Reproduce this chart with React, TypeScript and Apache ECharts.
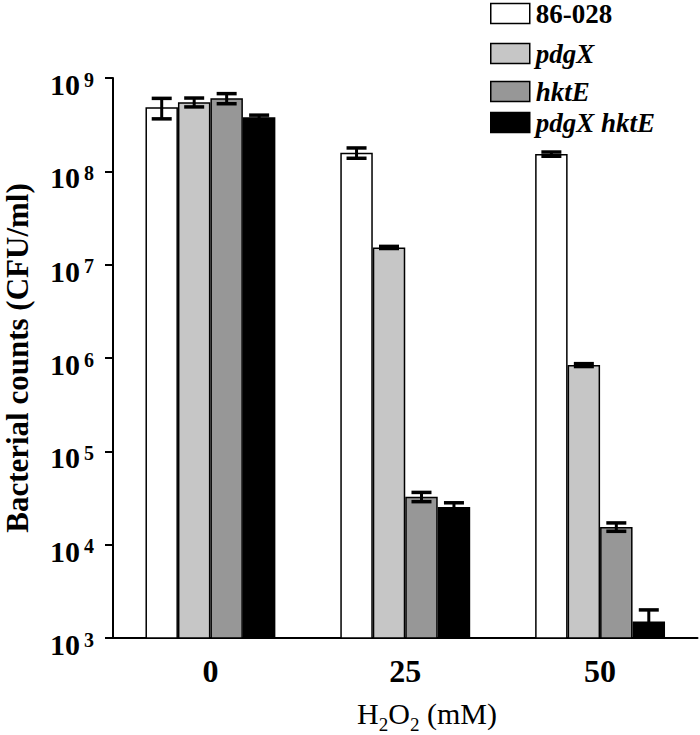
import React, { useEffect, useRef } from "react";
import * as echarts from "echarts";

const categories = ["0", "25", "50"];
const seriesNames = ["86-028", "pdgX", "hktE", "pdgX hktE"];
const values86028 = [4.85e8, 1.58e8, 1.53e8];
const valuesPdgX = [5.5e8, 1.53e7, 8.4e5];
const valuesHktE = [6.05e8, 3.26e4, 1.55e4];
const valuesDouble = [3.8e8, 2.54e4, 1.5e3];
const err86028 = [1.2e8, 0.2e8, 0.08e8];
const errPdgX = [0.6e8, 0.04e7, 0.3e5];
const errHktE = [0.75e8, 0.37e4, 0.16e4];
const errDouble = [0.2e8, 0.27e4, 0.5e3];
const colors = ["#ffffff", "#c6c6c6", "#979797", "#000000"];

const FONT = '"Liberation Serif", "Times New Roman", serif';
const GAP = 1 / 3;
const Y_MIN = 1e3;

export default function App() {
  const ref = useRef<HTMLDivElement>(null);
  useEffect(() => {
    if (!ref.current) return;
    const chart = echarts.init(ref.current, null, { renderer: "svg" });
    const allValues = [values86028, valuesPdgX, valuesHktE, valuesDouble];
    const allErr = [err86028, errPdgX, errHktE, errDouble];
    const errData: number[][] = [];
    allValues.forEach((vals, si) => {
      vals.forEach((v, ci) => {
        const e = allErr[si][ci];
        errData.push([ci, Math.max(v - e, Y_MIN), v + e, si]);
      });
    });
    const barSeries = seriesNames.map((name, si) => ({
      name,
      type: "bar",
      data: allValues[si],
      barGap: "0%",
      barCategoryGap: "33.33%",
      itemStyle: { color: colors[si], borderColor: "#000", borderWidth: 1.5 },
      z: 2,
    }));
    const legendTops = [0, 40, 78, 109];
    const legends = seriesNames.map((name, i) => ({
      data: [{ name, icon: "rect", itemStyle: { color: colors[i], borderColor: "#000", borderWidth: 1.5 } }],
      left: 490,
      top: legendTops[i],
      itemWidth: 39,
      itemHeight: 20,
      selectedMode: false,
      padding: 0,
      textStyle: {
        fontFamily: FONT,
        fontSize: 27,
        fontWeight: "bold",
        fontStyle: i === 0 ? "normal" : "italic",
        color: "#000",
        padding: [0, 0, 0, 1],
      },
    }));
    chart.setOption({
      animation: false,
      backgroundColor: "#fff",
      legend: legends,
      grid: { left: 113, right: 2.5, top: 78, bottom: 97, containLabel: false, outerBoundsMode: "none" },
      xAxis: {
        type: "category",
        data: categories,
        axisLine: { lineStyle: { color: "#000", width: 2 } },
        axisTick: { show: false },
        axisLabel: {
          fontFamily: FONT,
          fontSize: 32,
          fontWeight: "bold",
          color: "#000",
          margin: 17,
        },
      },
      yAxis: {
        type: "log",
        logBase: 10,
        min: Y_MIN,
        max: 1e9,
        splitNumber: 6,
        splitLine: { show: false },
        axisLine: { show: true, lineStyle: { color: "#000", width: 2 } },
        axisTick: { show: true, length: 8, lineStyle: { color: "#000", width: 2 } },
        axisLabel: {
          margin: 19,
          padding: [13, 0, 0, 0],
          formatter: (v: number) => `{b|10}{s|${Math.round(Math.log10(v))}}`,
          rich: {
            b: { fontFamily: FONT, fontSize: 30, fontWeight: "bold", color: "#000" },
            s: { fontFamily: FONT, fontSize: 20, fontWeight: "bold", color: "#000", verticalAlign: "top", padding: [0, 0, 0, 4] },
          },
        },
        name: "Bacterial counts (CFU/ml)",
        nameLocation: "middle",
        nameGap: 80,
        nameRotate: 90,
        nameTextStyle: { fontFamily: FONT, fontSize: 31, fontWeight: "bold", color: "#000" },
      },
      graphic: [
        {
          type: "text",
          x: 427,
          y: 716,
          style: {
            text: "{n|H}{sub|2}{n|O}{sub|2}{n| (mM)}",
            align: "center",
            verticalAlign: "middle",
            rich: {
              n: { fontFamily: FONT, fontSize: 30, color: "#000", lineHeight: 35, verticalAlign: "top" },
              sub: { fontFamily: FONT, fontSize: 19, color: "#000", verticalAlign: "bottom" },
            },
          },
        },
      ],
      series: [
        ...barSeries,
        {
          type: "custom",
          name: "err",
          data: errData,
          encode: { x: 0, y: [1, 2] },
          z: 5,
          renderItem: (params: any, api: any) => {
            const cat = api.value(0);
            const lo = api.value(1);
            const hi = api.value(2);
            const si = api.value(3);
            const p0 = api.coord([0, lo]);
            const p1 = api.coord([1, lo]);
            const band = p1[0] - p0[0];
            const bw = (band * (1 - GAP)) / 4;
            const cx = api.coord([cat, lo])[0] + (si - 1.5) * bw;
            const yLo = api.coord([cat, lo])[1];
            const yHi = api.coord([cat, hi])[1];
            const hw = 10;
            const st = { stroke: "#000", lineWidth: 3.5 };
            const children: any[] = [
              { type: "line", shape: { x1: cx, y1: yLo, x2: cx, y2: yHi }, style: { stroke: "#000", lineWidth: 3 } },
              { type: "line", shape: { x1: cx - hw, y1: yHi, x2: cx + hw, y2: yHi }, style: st },
            ];
            if (lo > Y_MIN) {
              children.push({ type: "line", shape: { x1: cx - hw, y1: yLo, x2: cx + hw, y2: yLo }, style: st });
            }
            return { type: "group", children };
          },
        },
      ],
    });
    return () => chart.dispose();
  }, []);
  return <div ref={ref} style={{ width: 700, height: 735, position: "absolute", left: 0, top: 0 }} />;
}
